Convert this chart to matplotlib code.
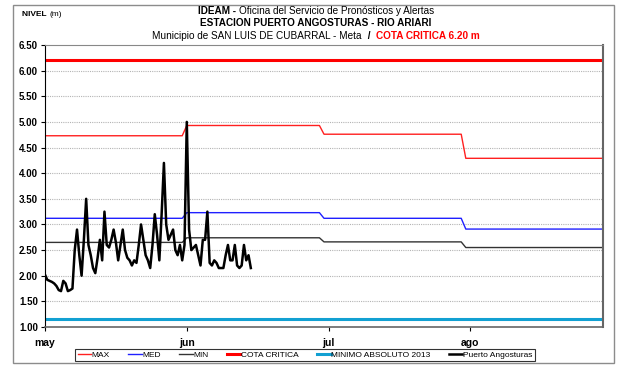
import numpy as np
import pandas as pd
import matplotlib
matplotlib.use("Agg")
import matplotlib.pyplot as plt
from matplotlib.patches import Rectangle

plt.rcParams['font.family'] = ['Liberation Sans Narrow', 'Liberation Sans', 'DejaVu Sans']

# monthly reference levels (may, jun, jul, ago)
month_starts = ['2013-05-01', '2013-06-01', '2013-07-01', '2013-08-01']
month_ends = ['2013-05-31', '2013-06-30', '2013-07-31', '2013-08-31']
nivel_max = [4.73, 4.93, 4.76, 4.29]
nivel_med = [3.12, 3.23, 3.12, 2.91]
nivel_min = [2.65, 2.74, 2.66, 2.55]

cota_critica = 6.20
minimo_absoluto = 1.15

# twice-daily readings at Puerto Angosturas starting 1 May
lecturas = [
    2.02, 1.92, 1.90, 1.88, 1.85, 1.80, 1.72, 1.70, 1.90, 1.85,
    1.70, 1.72, 1.75, 2.50, 2.90, 2.40, 2.00, 2.70, 3.50, 2.60,
    2.40, 2.15, 2.05, 2.35, 2.70, 2.30, 3.25, 2.60, 2.55, 2.70,
    2.90, 2.65, 2.30, 2.60, 2.90, 2.50, 2.35, 2.30, 2.20, 2.30,
    2.25, 2.60, 3.00, 2.70, 2.40, 2.30, 2.15, 2.60, 3.20, 2.80,
    2.30, 3.20, 4.20, 3.00, 2.70, 2.80, 2.90, 2.50, 2.40, 2.60,
    2.30, 2.60, 5.00, 2.90, 2.50, 2.55, 2.60, 2.40, 2.20, 2.70,
    2.70, 3.25, 2.25, 2.20, 2.30, 2.25, 2.15, 2.15, 2.15, 2.40,
    2.60, 2.30, 2.30, 2.60, 2.20, 2.15, 2.20, 2.60, 2.30, 2.40,
    2.15,
]

tick_dates = ['2013-05-01', '2013-06-01', '2013-07-02', '2013-08-02']
tick_labels = ['may', 'jun', 'jul', 'ago']


def monthly_steps(values):
    xs, ys = [], []
    for s, e, v in zip(month_starts, month_ends, values):
        xs += [pd.Timestamp(s), pd.Timestamp(e)]
        ys += [v, v]
    return xs, ys


fig = plt.figure(figsize=(6.17, 3.65), dpi=100)
ax = fig.add_axes([45 / 617, 1 - 327 / 365, 558 / 617, 282 / 365])

x0 = pd.Timestamp(month_starts[0])
x1 = pd.Timestamp(month_ends[-1])
fechas = pd.date_range(x0, periods=len(lecturas), freq='12h')

for yv in np.arange(1.5, 6.5, 0.5):
    ax.axhline(yv, color='#b4b4b4', lw=0.8, ls=(0, (1, 1)), zorder=0)

xs, ys = monthly_steps(nivel_max)
ax.plot(xs, ys, color='#ff2020', lw=1.0, label='MAX')
xs, ys = monthly_steps(nivel_med)
ax.plot(xs, ys, color='#2020ff', lw=1.0, label='MED')
xs, ys = monthly_steps(nivel_min)
ax.plot(xs, ys, color='#333333', lw=1.0, label='MIN')
ax.plot([x0, x1], [cota_critica, cota_critica], color='#ff0000', lw=2.2, label='COTA CRITICA')
ax.plot([x0, x1], [minimo_absoluto, minimo_absoluto], color='#12a0d2', lw=2.2,
        label='MINIMO ABSOLUTO 2013')
ax.plot(fechas, lecturas, color='black', lw=1.8, label='Puerto Angosturas')

ax.set_xlim(x0, x1)
ax.set_ylim(1.0, 6.5)
ax.set_yticks(np.arange(1.0, 6.51, 0.5))
ax.set_yticklabels([f'{v:.2f}' for v in np.arange(1.0, 6.51, 0.5)],
                   fontsize=7, fontweight='bold')
ax.set_xticks([pd.Timestamp(d) for d in tick_dates])
ax.set_xticklabels(tick_labels, fontsize=7.5, fontweight='bold')
ax.tick_params(axis='y', length=3, width=0.8, pad=2)
ax.tick_params(axis='x', length=3, width=0.8, pad=5)

ax.spines['left'].set_color('black')
ax.spines['top'].set_color('#888888')
ax.spines['right'].set_color('#666666')
ax.spines['bottom'].set_color('#666666')
ax.spines['right'].set_linewidth(1.5)
ax.spines['bottom'].set_linewidth(1.2)

# outer frame
fig.patches.append(Rectangle((13 / 617, 1 - 363 / 365), 601 / 617, 358 / 365,
                             transform=fig.transFigure, fill=False,
                             edgecolor='#8c8c8c', lw=1.0))


def rich_line(y, parts, size, xc=316 / 617):
    renderer = fig.canvas.get_renderer()
    texts = [fig.text(0, y, s, fontsize=size, fontweight=w, color=c, va='center')
             for s, w, c in parts]
    widths = [t.get_window_extent(renderer).width for t in texts]
    x = xc * fig.bbox.width - sum(widths) / 2
    for t, w in zip(texts, widths):
        t.set_x(x / fig.bbox.width)
        x += w


rich_line(1 - 11 / 365, [('IDEAM - ', 'bold', 'black'),
                         ('Oficina del Servicio de Pronósticos y Alertas', 'normal', 'black')], 7.2)
rich_line(1 - 23 / 365, [('ESTACION PUERTO ANGOSTURAS - RIO ARIARI', 'bold', 'black')], 7.2)
rich_line(1 - 36 / 365, [('Municipio de SAN LUIS DE CUBARRAL - Meta ', 'normal', 'black'),
                         (' /  ', 'bold', 'black'),
                         ('COTA CRITICA 6.20 m', 'bold', 'red')], 7.2)
rich_line(1 - 15 / 365, [('NIVEL ', 'bold', 'black'), ('(m)', 'normal', 'black')], 6,
          xc=42 / 617)

handles, labels = ax.get_legend_handles_labels()
leg = fig.legend(handles, labels, loc='center', ncol=6,
                 bbox_to_anchor=(305 / 617, 1 - 355 / 365), fontsize=6,
                 frameon=True, fancybox=False, edgecolor='black',
                 handlelength=1.6, handletextpad=0.1, columnspacing=2.2,
                 borderpad=0.25)
leg.get_frame().set_linewidth(0.8)

fig.savefig('out.png', dpi=100)
